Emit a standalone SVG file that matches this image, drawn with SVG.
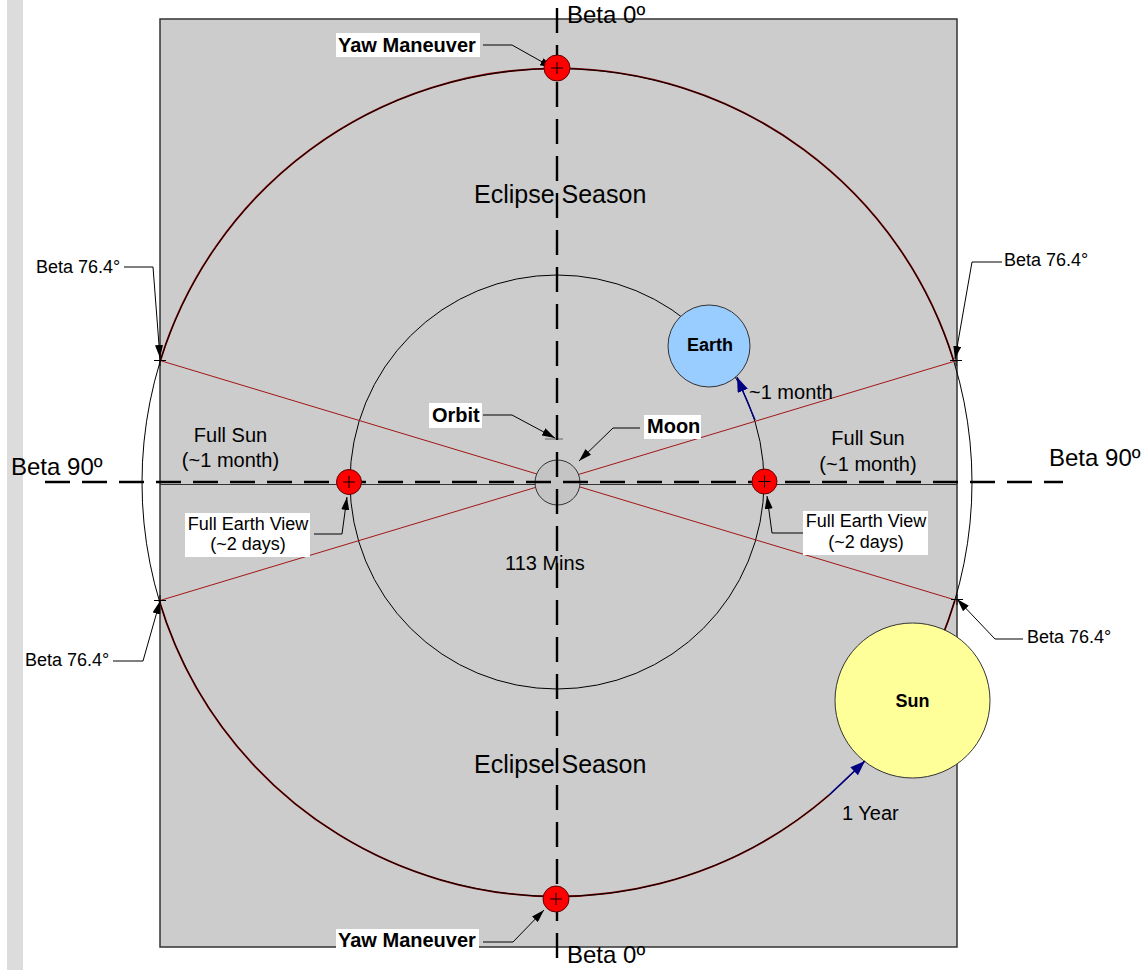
<svg xmlns="http://www.w3.org/2000/svg" width="1141" height="970" viewBox="0 0 1141 970">
  <style>
    text { font-family: "Liberation Sans", Arial, sans-serif; fill: #000; }
    .b { font-weight: bold; }
    .big { font-size: 24px; }
    .mid { font-size: 20px; }
    .sm { font-size: 18px; }
    .lead { fill: none; stroke: #000; stroke-width: 1; marker-end: url(#ah); }
    .box { fill: #fff; stroke: none; }
    .dash { stroke: #000; stroke-width: 2.4; stroke-dasharray: 25 12; fill: none; }
    .beta { stroke: #a31515; stroke-width: 1; fill: none; }
    .yr { fill: none; stroke: #8b0000; stroke-width: 1.8; }
    .dot { fill: #ff0000; stroke: #600000; stroke-width: 1; }
    .tick { stroke: #000; stroke-width: 1; fill: none; }
  </style>
  <defs>
    <marker id="ah" viewBox="0 0 13 8" refX="13" refY="4" markerWidth="13" markerHeight="8" markerUnits="userSpaceOnUse" orient="auto">
      <path d="M0,0 L13,4 L0,8 z" fill="#000"/>
    </marker>
    <marker id="ahb" viewBox="0 0 15 11" refX="15" refY="5.5" markerWidth="15" markerHeight="11" markerUnits="userSpaceOnUse" orient="auto">
      <path d="M0,0 L15,5.5 L0,11 z" fill="#000080"/>
    </marker>
  </defs>

  <!-- page margin strip -->
  <rect x="7" y="0" width="16" height="970" fill="#dcdcdc"/>

  <!-- background panel -->
  <g id="panel">
    <rect x="160" y="19" width="797" height="928" fill="#cccccc" stroke="#333" stroke-width="1.5"/>
    <line x1="160" y1="484.5" x2="957" y2="484.5" stroke="#333" stroke-width="1.2"/>
  </g>

  <!-- yearly orbit: eclipse-season arcs in dark red under the black orbit line -->
  <g id="year-orbit">
    <path class="yr" d="M160.3,360.8 A415,414 0 0 1 953.7,360.8"/>
    <path class="yr" d="M159.2,600.5 A415,414 0 0 0 829.3,794.9"/>
    <path class="yr" d="M941.8,637.6 A415,414 0 0 0 954.8,600.5"/>
    <ellipse cx="557" cy="482.5" rx="415" ry="414" fill="none" stroke="#000" stroke-width="1"/>
  </g>

  <!-- monthly orbit -->
  <g id="month-orbit">
    <circle cx="557" cy="482" r="207" fill="none" stroke="#000" stroke-width="1"/>
  </g>

  <!-- beta 76.4 boundaries -->
  <g id="beta-lines">
    <line class="beta" x1="160" y1="360.5" x2="957" y2="600.5"/>
    <line class="beta" x1="160" y1="600.5" x2="957" y2="360.5"/>
    <path class="tick" d="M154,360.5 H166 M160,355 V366 M950,360.5 H962 M956,355 V366 M154,600.5 H166 M160,595 V606 M951,599.5 H963 M957,594 V605"/>
  </g>

  <!-- moon -->
  <g id="moon">
    <circle cx="557.5" cy="482.5" r="22.5" fill="#c4c4c4" stroke="#333" stroke-width="1"/>
  </g>
  <line x1="545" y1="439" x2="563" y2="439" stroke="#666" stroke-width="1"/>

  <!-- season labels -->
  <g id="labels-season">
    <text x="474" y="203" style="font-size:25px">Eclipse Season</text>
    <text x="474" y="773" style="font-size:25px">Eclipse Season</text>
    <text class="mid" x="505" y="570">113 Mins</text>
    <text class="mid" x="230.5" y="442" text-anchor="middle">Full Sun</text>
    <text class="mid" x="230.5" y="467" text-anchor="middle">(~1 month)</text>
    <text class="mid" x="868" y="445" text-anchor="middle">Full Sun</text>
    <text class="mid" x="868" y="471" text-anchor="middle">(~1 month)</text>
  </g>

  <!-- axes -->
  <g id="axes">
    <line class="dash" x1="557" y1="8" x2="557" y2="958"/>
    <line class="dash" x1="45" y1="482" x2="1063" y2="482"/>
    <text class="big" x="567" y="23">Beta 0º</text>
    <text class="big" x="567" y="963">Beta 0º</text>
    <text class="big" x="11" y="475">Beta 90º</text>
    <text class="big" x="1049" y="466">Beta 90º</text>
  </g>

  <!-- earth -->
  <g id="earth">
    <circle cx="709" cy="346" r="41" fill="#99ccff" stroke="#333" stroke-width="1"/>
    <text class="sm b" x="710" y="351" text-anchor="middle">Earth</text>
  </g>

  <!-- sun -->
  <g id="sun">
    <circle cx="912.5" cy="700.5" r="77.5" fill="#ffff99" stroke="#333" stroke-width="1"/>
    <text class="sm b" x="912.5" y="707" text-anchor="middle">Sun</text>
  </g>

  <!-- motion arrows and callout leaders -->
  <g id="connectors">
    <path d="M755,420 L737,377" fill="none" stroke="#000080" stroke-width="1.5" marker-end="url(#ahb)"/>
    <path d="M829.3,794.9 L865,761" fill="none" stroke="#000080" stroke-width="1.5" marker-end="url(#ahb)"/>
    <path class="lead" d="M483,45 H512 L553,68"/>
    <path class="lead" d="M483,942 H513 L544,910"/>
    <path class="lead" d="M483,415 H512 L555,438"/>
    <path class="lead" d="M640,428 H613 L579,461"/>
    <path class="lead" d="M314,534 H342 L347,497"/>
    <path class="lead" d="M803,533 H772 L767,496"/>
    <path class="lead" d="M124,267 H153 L160,358"/>
    <path class="lead" d="M1002,262 H972 L955,359"/>
    <path class="lead" d="M113,661 H143 L160,601"/>
    <path class="lead" d="M1023,639 H995 L957,599"/>
  </g>
  <text class="mid" x="749" y="399">~1 month</text>
  <text class="mid" x="842" y="820">1 Year</text>

  <!-- event markers -->
  <g id="yaw-top">
    <circle class="dot" cx="557" cy="68" r="13"/>
    <path class="tick" d="M551,68 H563 M557,62 V74"/>
  </g>
  <g id="yaw-bottom">
    <circle class="dot" cx="556" cy="899" r="13"/>
    <path class="tick" d="M550,899 H562 M556,893 V905"/>
  </g>
  <g id="full-earth-left">
    <circle class="dot" cx="349" cy="482" r="12.5"/>
    <path class="tick" d="M343,482 H355 M349,476 V488"/>
  </g>
  <g id="full-earth-right">
    <circle class="dot" cx="764.5" cy="481.5" r="12.5"/>
    <path class="tick" d="M758.5,481.5 H770.5 M764.5,475.5 V487.5"/>
  </g>

  <!-- callout labels -->
  <g id="label-yaw-top">
    <rect class="box" x="336" y="33" width="144" height="24"/>
    <text class="mid b" x="338" y="52">Yaw Maneuver</text>
  </g>
  <g id="label-yaw-bottom">
    <rect class="box" x="336" y="929" width="143" height="21"/>
    <text class="mid b" x="338" y="947">Yaw Maneuver</text>
  </g>
  <g id="label-orbit">
    <rect class="box" x="429" y="403" width="53" height="25"/>
    <text class="mid b" x="432" y="422">Orbit</text>
  </g>
  <g id="label-moon">
    <rect class="box" x="644" y="415" width="57" height="24"/>
    <text class="mid b" x="647" y="433">Moon</text>
  </g>
  <g id="label-fev-left">
    <rect class="box" x="185" y="513" width="125" height="44"/>
    <text class="sm" x="248" y="530" text-anchor="middle">Full Earth View</text>
    <text class="sm" x="248" y="550" text-anchor="middle">(~2 days)</text>
  </g>
  <g id="label-fev-right">
    <rect class="box" x="803" y="511" width="125" height="44"/>
    <text class="sm" x="866" y="527" text-anchor="middle">Full Earth View</text>
    <text class="sm" x="866" y="548" text-anchor="middle">(~2 days)</text>
  </g>
  <g id="label-beta-76">
    <text class="sm" x="36" y="273">Beta 76.4°</text>
    <text class="sm" x="1004" y="266">Beta 76.4°</text>
    <text class="sm" x="25" y="666">Beta 76.4°</text>
    <text class="sm" x="1027" y="643">Beta 76.4°</text>
  </g>
</svg>
